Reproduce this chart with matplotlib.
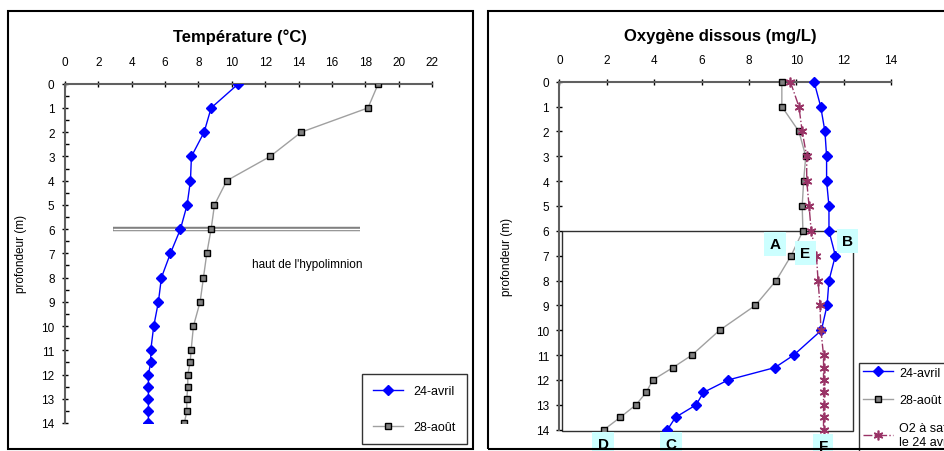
import numpy as np
import matplotlib
matplotlib.use("Agg")
import matplotlib.pyplot as plt
from matplotlib.patches import Rectangle
from matplotlib.ticker import MultipleLocator

plt.rcParams['font.family'] = ['Liberation Sans', 'DejaVu Sans']

# profondeurs (m)
depth = [0, 1, 2, 3, 4, 5, 6, 7, 8, 9, 10, 11, 11.5, 12, 12.5, 13, 13.5, 14]

# temperature (°C)
temp_avril = [10.4, 8.76, 8.34, 7.58, 7.52, 7.32, 6.92, 6.32, 5.78, 5.6, 5.32,
              5.14, 5.14, 5.0, 5.0, 5.0, 5.0, 5.0]
temp_aout = [18.78, 18.16, 14.16, 12.3, 9.7, 8.96, 8.76, 8.5, 8.3, 8.1, 7.7,
             7.56, 7.5, 7.36, 7.36, 7.3, 7.3, 7.16]

# oxygene dissous (mg/L)
o2_avril = [10.75, 11.03, 11.21, 11.28, 11.28, 11.38, 11.38, 11.65, 11.38, 11.3,
            11.06, 9.89, 9.1, 7.12, 6.08, 5.77, 4.9, 4.56]
o2_aout = [9.39, 9.39, 10.11, 10.4, 10.31, 10.25, 10.28, 9.78, 9.15, 8.27, 6.76,
           5.59, 4.79, 3.94, 3.66, 3.23, 2.57, 1.88]
o2_sat = [9.75, 10.11, 10.25, 10.44, 10.44, 10.54, 10.63, 10.85, 10.92, 11.0,
          11.04, 11.15, 11.15, 11.15, 11.15, 11.15, 11.15, 11.15]

# lettres sur le graphe d'oxygene
letters = ['A', 'E', 'B', 'D', 'C', 'F']
letter_x = [9.11, 10.38, 12.16, 1.84, 4.71, 11.14]
letter_y = [6.53, 6.89, 6.41, 14.57, 14.57, 14.65]

BLUE = '#0000FF'
GRAY = '#A0A0A0'
PLUM = '#993366'
SPINE = '#606060'

W, H = 945, 452
fig = plt.figure(figsize=(W / 100, H / 100), dpi=100)


def px_rect(x0, y0, x1, y1):
    # pixel box (top-left origin) -> figure fraction [l, b, w, h]
    return [x0 / W, 1 - y1 / H, (x1 - x0) / W, (y1 - y0) / H]


# chart area borders
for x0, x1 in [(8, 473), (488, 960)]:
    l, b, w, h = px_rect(x0, 12, x1, 450)
    fig.patches.append(Rectangle((l, b), w, h, transform=fig.transFigure,
                                 fill=False, edgecolor='black', lw=1.5))


def style_axes(ax, xmax, xstep):
    ax.set_xlim(0, xmax)
    ax.set_ylim(14, 0)
    ax.xaxis.tick_top()
    ax.set_xticks(np.arange(0, xmax + 0.1, xstep))
    ax.set_yticks(range(0, 15))
    for s in ['bottom', 'right']:
        ax.spines[s].set_visible(False)
    for s in ['top', 'left']:
        ax.spines[s].set_color(SPINE)
        ax.spines[s].set_linewidth(1.5)
    ax.tick_params(axis='both', which='major', direction='inout', length=5,
                   width=1, color='black', labelsize=8.5)
    ax.tick_params(axis='x', pad=9)
    ax.tick_params(axis='y', pad=5)
    ax.set_ylabel('profondeur (m)', fontsize=8.5)
    ax.patch.set_alpha(0)


# ---- temperature
ax1 = fig.add_axes(px_rect(65, 84.7, 432, 424))
style_axes(ax1, 22, 2)
ax1.yaxis.set_minor_locator(MultipleLocator(0.5))
ax1.tick_params(axis='y', which='minor', direction='in', length=3, width=1)
ax1.yaxis.set_label_coords(-0.1035, 0.5)
fig.text(240 / W, 1 - 37 / H, 'Température (°C)', fontsize=12, fontweight='bold',
         ha='center', va='center')

ax1.plot([2.9, 17.7], [6, 6], color='#808080', lw=3.2, solid_capstyle='butt', zorder=1)
ax1.plot([2.9, 17.7], [6, 6], color='white', lw=1.0, solid_capstyle='butt', zorder=1)
ax1.plot(temp_avril, depth, color=BLUE, lw=1, marker='D', ms=5.5, mec=BLUE, mfc=BLUE,
         label='24-avril', zorder=3)
ax1.plot(temp_aout, depth, color=GRAY, lw=1, marker='s', ms=5, mec='black', mfc='#808080',
         label='28-août', zorder=3)
ax1.text(11.2, 7.45, "haut de l'hypolimnion", fontsize=8.5, ha='left', va='center')

l1 = px_rect(362, 375, 471, 447)
leg1 = ax1.legend(loc='upper left', bbox_to_anchor=(l1[0], l1[1] + l1[3]),
                  bbox_transform=fig.transFigure, borderaxespad=0, fontsize=9,
                  handlelength=2.4, labelspacing=1.9, borderpad=0.9,
                  fancybox=False, frameon=True, edgecolor='black')
leg1.get_frame().set_linewidth(1.0)

# ---- oxygene
ax2 = fig.add_axes(px_rect(559.5, 82.7, 891, 430.7))
style_axes(ax2, 14, 2)
ax2.yaxis.set_label_coords(-0.14, 0.5)
fig.text(720 / W, 1 - 37 / H, 'Oxygène dissous (mg/L)', fontsize=12, fontweight='bold',
         ha='center', va='center')

ax2.add_patch(Rectangle((0.1, 6), 12.28, 8.05, fill=False, edgecolor='#303030',
                        lw=1.0, zorder=1, clip_on=False))
ax2.plot(o2_avril, depth, color=BLUE, lw=1, marker='D', ms=5.5, mec=BLUE, mfc=BLUE,
         label='24-avril', zorder=3, clip_on=False)
ax2.plot(o2_aout, depth, color=GRAY, lw=1, marker='s', ms=5, mec='black', mfc='#808080',
         label='28-août', zorder=3, clip_on=False)
ax2.plot(o2_sat, depth, color=PLUM, lw=1, ls='-.', marker=(6, 2, 0), ms=7, mew=1.2,
         label='O2 à saturation\nle 24 avril', zorder=4, clip_on=False)

for t, x, y in zip(letters, letter_x, letter_y):
    ax2.text(x, y, t, fontsize=11, fontweight='bold', ha='center', va='center',
             zorder=6, clip_on=False,
             bbox=dict(boxstyle='square,pad=0.35', facecolor='#CCFFFF', edgecolor='none'))

l2 = px_rect(859, 364, 960, 452)
leg2 = ax2.legend(loc='upper left', bbox_to_anchor=(l2[0], l2[1] + l2[3]),
                  bbox_transform=fig.transFigure, borderaxespad=0, fontsize=9,
                  handlelength=2.4, handletextpad=0.5, labelspacing=1.25,
                  borderpad=0.3, fancybox=False, frameon=True, edgecolor='black')
leg2.get_frame().set_linewidth(1.0)

fig.savefig('out.png', dpi=100)
